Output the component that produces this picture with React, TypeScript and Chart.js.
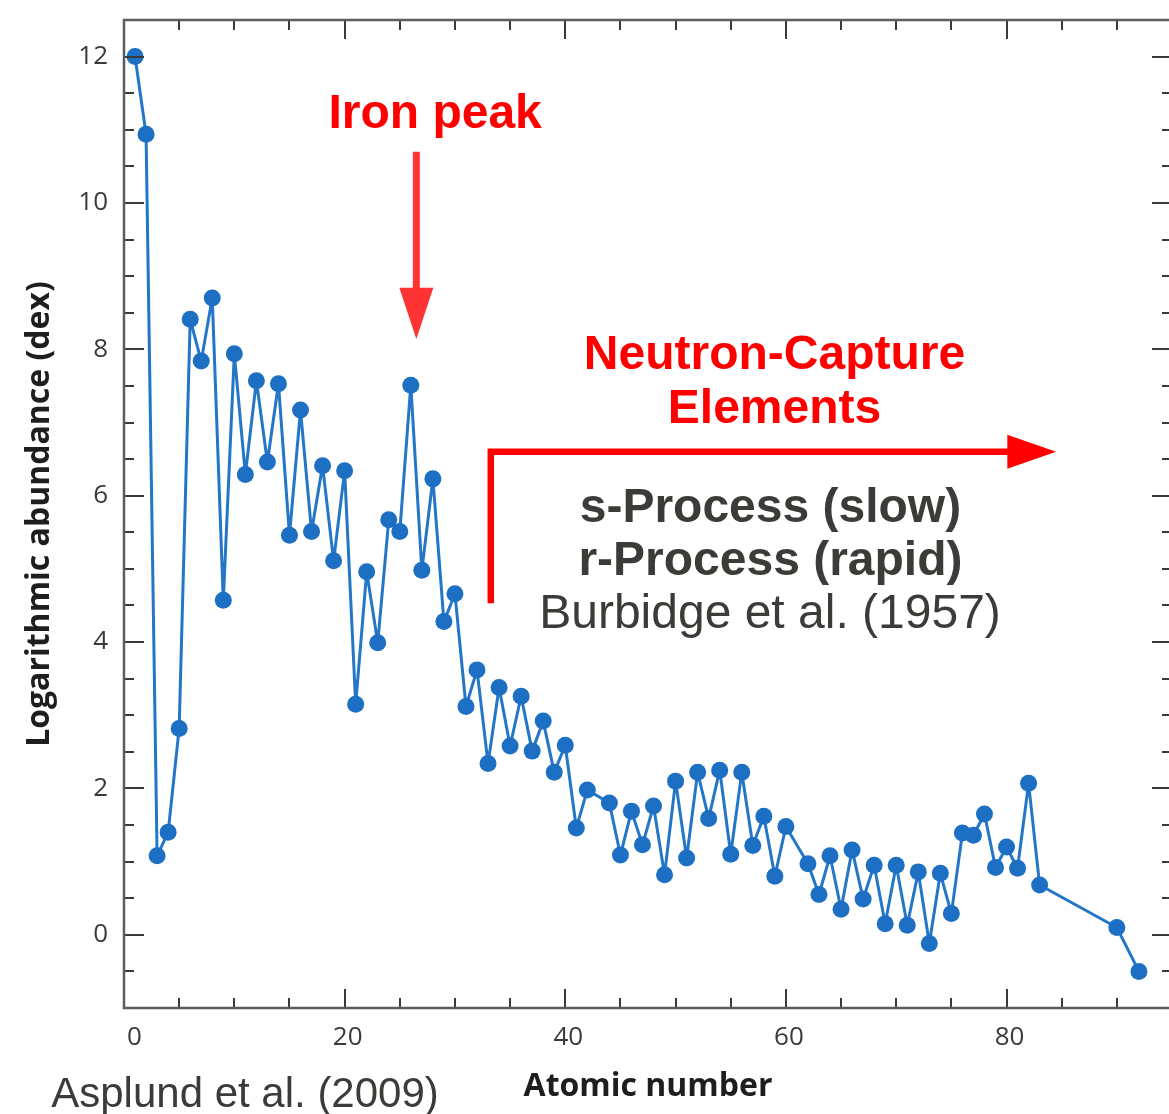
import { useEffect, useRef } from 'react';
import { Chart, registerables } from 'chart.js';

Chart.register(...registerables);

// Solar photospheric abundances, log eps (H = 12), by atomic number
const atomicNumbers = [
  1, 2, 3, 4, 5, 6, 7, 8, 9, 10,
  11, 12, 13, 14, 15, 16, 17, 18, 19, 20,
  21, 22, 23, 24, 25, 26, 27, 28, 29, 30,
  31, 32, 33, 34, 35, 36, 37, 38, 39, 40,
  41, 42, 44, 45, 46, 47, 48, 49, 50,
  51, 52, 53, 54, 55, 56, 57, 58, 59, 60,
  62, 63, 64, 65, 66, 67, 68, 69, 70,
  71, 72, 73, 74, 75, 76, 77, 78, 79, 80,
  81, 82, 83, 90, 92,
];

const abundances = [
  12.0, 10.94, 1.08, 1.4, 2.82, 8.41, 7.84, 8.7, 4.57, 7.94,
  6.29, 7.57, 6.46, 7.53, 5.46, 7.17, 5.51, 6.41, 5.11, 6.34,
  3.15, 4.96, 3.99, 5.67, 5.51, 7.51, 4.98, 6.23, 4.28, 4.66,
  3.12, 3.62, 2.34, 3.38, 2.58, 3.26, 2.51, 2.92, 2.22, 2.59,
  1.46, 1.98, 1.8, 1.09, 1.69, 1.23, 1.76, 0.82, 2.1,
  1.05, 2.22, 1.59, 2.25, 1.1, 2.22, 1.22, 1.62, 0.8, 1.48,
  0.97, 0.55, 1.08, 0.35, 1.16, 0.49, 0.95, 0.15, 0.95,
  0.13, 0.86, -0.12, 0.84, 0.29, 1.39, 1.36, 1.65, 0.92, 1.2,
  0.91, 2.07, 0.68, 0.1, -0.5,
];

const X_MIN = 0;
const X_MAX = 95;
const Y_MIN = -1;
const Y_MAX = 12.5;
const X_MAJOR = 20;
const X_MINOR = 5;
const Y_MAJOR = 2;
const Y_MINOR = 0.5;

const BLUE = '#1c6fc2';
const RED = '#ff0000';
const TEXT_DARK = '#3b3b37';
const ANNOT_FONT = '"Liberation Sans", Arial, sans-serif';
const AXIS_FONT = '"Open Sans", "Noto Sans", sans-serif';

// Inward tick marks on all four sides plus the surrounding frame
const frameTicksPlugin = {
  id: 'frameTicks',
  afterDraw(chart: any) {
    const { ctx, chartArea: a } = chart;
    const xs = chart.scales.x;
    const ys = chart.scales.y;
    ctx.save();
    ctx.strokeStyle = '#3a3a3a';
    ctx.lineWidth = 2;
    ctx.beginPath();
    for (const t of xs.ticks) {
      const p = Math.round(xs.getPixelForValue(t.value));
      const len = t.value % X_MAJOR === 0 ? 19 : 10;
      ctx.moveTo(p, a.bottom);
      ctx.lineTo(p, a.bottom - len);
      ctx.moveTo(p, a.top);
      ctx.lineTo(p, a.top + len);
    }
    for (const t of ys.ticks) {
      const p = Math.round(ys.getPixelForValue(t.value));
      const len = t.value % Y_MAJOR === 0 ? 20 : 10;
      ctx.moveTo(a.left, p);
      ctx.lineTo(a.left + len, p);
      ctx.moveTo(a.right, p);
      ctx.lineTo(a.right - len, p);
    }
    ctx.stroke();
    ctx.strokeStyle = '#5c5c5c';
    ctx.lineWidth = 2.5;
    ctx.strokeRect(a.left, a.top, a.right - a.left, a.bottom - a.top);
    ctx.restore();
  },
};

// Text and arrows placed in data coordinates
const annotationPlugin = {
  id: 'abundanceNotes',
  afterDraw(chart: any) {
    const { ctx } = chart;
    const xs = chart.scales.x;
    const ys = chart.scales.y;
    const px = (v: number) => xs.getPixelForValue(v);
    const py = (v: number) => ys.getPixelForValue(v);
    const label = (text: string, x: number, y: number) => ctx.fillText(text, px(x), py(y) + 3);
    ctx.save();
    ctx.textAlign = 'center';
    ctx.textBaseline = 'middle';

    // Iron peak label and downward arrow
    ctx.fillStyle = RED;
    ctx.font = `bold 48px ${ANNOT_FONT}`;
    label('Iron peak', 28.2, 11.24);

    const ax = px(26.5);
    ctx.strokeStyle = '#ff3333';
    ctx.fillStyle = '#ff3333';
    ctx.lineWidth = 7;
    ctx.beginPath();
    ctx.moveTo(ax, py(10.7));
    ctx.lineTo(ax, py(8.84) + 2);
    ctx.stroke();
    ctx.beginPath();
    ctx.moveTo(ax - 17, py(8.84));
    ctx.lineTo(ax + 17, py(8.84));
    ctx.lineTo(ax, py(8.14));
    ctx.closePath();
    ctx.fill();

    // Neutron-capture bracket arrow
    ctx.fillStyle = RED;
    ctx.font = `bold 48px ${ANNOT_FONT}`;
    label('Neutron-Capture', 58.97, 7.95);
    label('Elements', 58.97, 7.21);

    const bx = px(33.25);
    const by = py(6.6);
    const headX = px(80.07);
    ctx.strokeStyle = RED;
    ctx.lineWidth = 6.5;
    ctx.lineCap = 'butt';
    ctx.lineJoin = 'miter';
    ctx.beginPath();
    ctx.moveTo(bx, py(4.53));
    ctx.lineTo(bx, by);
    ctx.lineTo(headX + 2, by);
    ctx.stroke();
    ctx.beginPath();
    ctx.moveTo(headX, by - 17);
    ctx.lineTo(px(84.5), by);
    ctx.lineTo(headX, by + 17);
    ctx.closePath();
    ctx.fill();

    // Process names and reference
    ctx.fillStyle = TEXT_DARK;
    ctx.font = `bold 48px ${ANNOT_FONT}`;
    label('s-Process (slow)', 58.6, 5.86);
    label('r-Process (rapid)', 58.6, 5.14);
    ctx.font = `48px ${ANNOT_FONT}`;
    label('Burbidge et al. (1957)', 58.56, 4.42);

    // Data source caption under the axis
    ctx.font = `42px ${ANNOT_FONT}`;
    ctx.fillText('Asplund et al. (2009)', 245, 1095);
    ctx.restore();
  },
};

export default function App() {
  const canvasRef = useRef<HTMLCanvasElement | null>(null);

  useEffect(() => {
    const canvas = canvasRef.current;
    if (!canvas) return;
    const points = atomicNumbers.map((z, i) => ({ x: z, y: abundances[i] }));
    const chart = new Chart(canvas, {
      type: 'scatter',
      data: {
        datasets: [
          {
            data: points,
            showLine: true,
            borderColor: '#2376c8',
            borderWidth: 3,
            borderJoinStyle: 'round',
            backgroundColor: BLUE,
            pointBackgroundColor: BLUE,
            pointBorderWidth: 0,
            pointRadius: 8.5,
            tension: 0,
          } as any,
        ],
      },
      options: {
        responsive: false,
        animation: false,
        devicePixelRatio: 1,
        layout: { padding: { left: 0, top: 20, right: 28, bottom: 0 } },
        plugins: {
          legend: { display: false },
          tooltip: { enabled: false },
        },
        scales: {
          x: {
            type: 'linear',
            min: X_MIN,
            max: X_MAX,
            grid: { display: false, drawTicks: false },
            border: { display: false },
            ticks: {
              stepSize: X_MINOR,
              autoSkip: false,
              maxRotation: 0,
              align: 'inner',
              labelOffset: 3,
              padding: 14,
              color: '#3a3a3a',
              font: { family: AXIS_FONT, size: 26 },
              callback: (v: any) => (Number(v) % X_MAJOR === 0 && Number(v) <= 80 ? String(v) : ''),
            },
            title: {
              display: true,
              text: 'Atomic number',
              color: '#1e1e1e',
              font: { family: AXIS_FONT, size: 32, weight: 'bold', lineHeight: 1.2 },
              padding: { top: 0, bottom: 8 },
            },
            afterFit: (scale: any) => {
              scale.height = 106;
              scale.paddingLeft = 0;
              scale.paddingRight = 0;
            },
          },
          y: {
            type: 'linear',
            min: Y_MIN,
            max: Y_MAX,
            grid: { display: false, drawTicks: false },
            border: { display: false },
            ticks: {
              stepSize: Y_MINOR,
              autoSkip: false,
              padding: 16,
              color: '#3a3a3a',
              font: { family: AXIS_FONT, size: 26 },
              callback: (v: any) => (Number(v) >= 0 && Number(v) % Y_MAJOR === 0 ? String(v) : ''),
            },
            title: {
              display: true,
              text: 'Logarithmic abundance (dex)',
              color: '#1e1e1e',
              font: { family: AXIS_FONT, size: 32, weight: 'bold', lineHeight: 1.2 },
              padding: { top: 21, bottom: 0 },
            },
            afterFit: (scale: any) => {
              scale.width = 124;
              scale.paddingTop = 0;
              scale.paddingBottom = 0;
            },
          },
        },
      } as any,
      plugins: [frameTicksPlugin, annotationPlugin],
    });
    return () => chart.destroy();
  }, []);

  return (
    <div
      style={{
        position: 'fixed',
        left: 0,
        top: 0,
        width: 1169,
        height: 1114,
        overflow: 'hidden',
        background: '#ffffff',
      }}
    >
      <canvas
        ref={canvasRef}
        width={1200}
        height={1114}
        style={{ display: 'block', width: 1200, height: 1114 }}
      />
    </div>
  );
}
